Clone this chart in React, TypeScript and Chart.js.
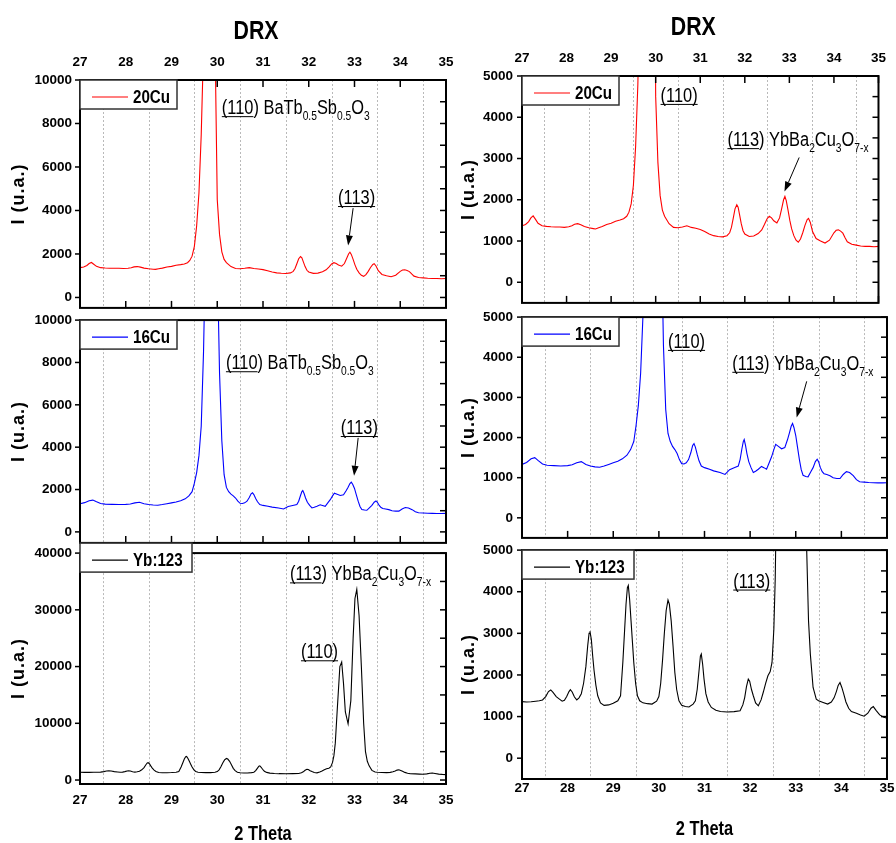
import React, { useEffect, useRef } from 'react';
import { Chart, registerables } from 'chart.js';

Chart.register(...registerables);

// ---------------- DATA: [2θ, intensity] ----------------
const scan20Cu: [number, number][] = [
  [27.00,1370],[27.08,1400],[27.15,1470],[27.20,1560],[27.25,1610],[27.30,1530],[27.36,1430],[27.45,1370],[27.55,1355],[27.65,1345],
  [27.75,1340],[27.85,1340],[27.95,1330],[28.05,1345],[28.12,1370],[28.18,1405],[28.25,1420],[28.32,1395],[28.40,1350],[28.50,1320],
  [28.60,1300],[28.65,1290],[28.72,1320],[28.80,1350],[28.90,1400],[29.00,1430],[29.10,1480],[29.20,1510],[29.28,1540],[29.35,1600],
  [29.40,1700],[29.45,1900],[29.50,2350],[29.55,3300],[29.60,4800],[29.65,7500],[29.70,11500],[29.80,30000],[29.85,35000],[29.90,25000],
  [29.95,12000],[30.00,4500],[30.05,2900],[30.10,2100],[30.15,1750],[30.20,1600],[30.30,1420],[30.40,1330],[30.50,1320],[30.60,1340],
  [30.70,1370],[30.80,1330],[30.90,1310],[31.00,1280],[31.10,1230],[31.20,1170],[31.30,1130],[31.40,1110],[31.50,1100],[31.60,1130],
  [31.66,1200],[31.70,1330],[31.74,1550],[31.78,1780],[31.82,1880],[31.85,1820],[31.88,1650],[31.92,1420],[31.96,1250],[32.00,1170],
  [32.10,1110],[32.20,1120],[32.30,1180],[32.38,1270],[32.44,1400],[32.50,1540],[32.55,1600],[32.60,1560],[32.65,1490],[32.72,1440],
  [32.78,1560],[32.83,1800],[32.87,2000],[32.90,2080],[32.93,1980],[32.97,1750],[33.01,1500],[33.05,1300],[33.10,1130],[33.15,1020],
  [33.20,970],[33.25,1050],[33.30,1200],[33.35,1380],[33.40,1520],[33.43,1550],[33.47,1450],[33.52,1230],[33.60,1060],[33.70,1000],
  [33.80,950],[33.90,1020],[34.00,1200],[34.05,1260],[34.10,1270],[34.15,1240],[34.20,1190],[34.25,1080],[34.30,980],[34.40,920],
  [34.50,900],[34.60,880],[34.70,870],[34.80,870],[34.90,860],[35.00,870],
];

const scan16Cu: [number, number][] = [
  [27.00,1330],[27.10,1380],[27.20,1470],[27.28,1500],[27.35,1430],[27.45,1340],[27.55,1310],[27.70,1300],[27.85,1290],[28.00,1300],
  [28.10,1320],[28.20,1370],[28.30,1400],[28.40,1330],[28.50,1290],[28.60,1270],[28.70,1260],[28.80,1290],[28.90,1330],[29.00,1370],
  [29.10,1410],[29.20,1470],[29.30,1560],[29.38,1700],[29.45,1900],[29.50,2300],[29.55,2800],[29.60,3600],[29.65,5000],[29.70,8500],
  [29.75,14000],[29.85,35000],[29.90,38000],[29.95,30000],[30.00,13000],[30.05,7500],[30.10,4300],[30.15,2700],[30.20,2100],[30.25,1900],
  [30.30,1780],[30.35,1700],[30.40,1600],[30.45,1450],[30.50,1350],[30.55,1340],[30.60,1370],[30.65,1450],[30.70,1620],[30.74,1800],
  [30.77,1850],[30.80,1760],[30.84,1580],[30.88,1420],[30.93,1290],[31.00,1250],[31.11,1210],[31.20,1170],[31.34,1130],[31.45,1080],
  [31.55,1200],[31.65,1250],[31.74,1290],[31.78,1450],[31.82,1720],[31.85,1900],[31.87,1950],[31.90,1800],[31.93,1600],[31.97,1400],
  [32.02,1250],[32.07,1130],[32.12,1160],[32.18,1210],[32.25,1280],[32.30,1250],[32.36,1210],[32.42,1380],[32.47,1520],[32.52,1700],
  [32.56,1830],[32.62,1780],[32.69,1720],[32.76,1750],[32.82,1950],[32.86,2110],[32.90,2280],[32.93,2350],[32.96,2250],[33.00,2050],
  [33.04,1750],[33.08,1450],[33.12,1200],[33.16,1060],[33.22,1030],[33.27,1020],[33.33,1150],[33.38,1250],[33.43,1400],[33.47,1460],
  [33.50,1400],[33.54,1250],[33.58,1150],[33.62,1100],[33.68,1080],[33.75,1050],[33.82,1000],[33.90,980],[33.97,980],[34.04,1080],
  [34.11,1150],[34.18,1130],[34.26,1050],[34.33,950],[34.40,900],[34.50,890],[34.60,880],[34.70,875],[34.80,870],[34.90,870],[35.00,875],
];

const scanYb123: [number, number][] = [
  [27.00,1360],[27.10,1350],[27.20,1355],[27.30,1370],[27.38,1380],[27.45,1400],[27.52,1480],[27.58,1600],[27.63,1640],[27.68,1580],
  [27.75,1480],[27.82,1420],[27.88,1370],[27.93,1390],[27.98,1480],[28.03,1600],[28.06,1645],[28.10,1590],[28.15,1470],[28.20,1400],
  [28.25,1450],[28.30,1550],[28.35,1800],[28.40,2200],[28.44,2700],[28.47,3000],[28.49,3050],[28.52,2850],[28.55,2450],[28.58,2100],
  [28.62,1750],[28.66,1500],[28.72,1330],[28.80,1270],[28.90,1280],[29.00,1320],[29.10,1380],[29.16,1500],[29.21,2300],[29.25,3100],
  [29.28,3700],[29.31,4100],[29.33,4150],[29.36,3800],[29.39,3300],[29.42,2800],[29.45,2300],[29.49,1800],[29.53,1500],[29.58,1380],
  [29.65,1330],[29.75,1310],[29.85,1300],[29.95,1370],[30.00,1480],[30.04,1800],[30.08,2350],[30.12,3000],[30.16,3550],[30.20,3800],
  [30.23,3700],[30.27,3300],[30.31,2700],[30.35,2060],[30.39,1650],[30.44,1380],[30.50,1270],[30.58,1240],[30.66,1230],[30.75,1300],
  [30.80,1380],[30.84,1650],[30.88,2100],[30.91,2450],[30.93,2500],[30.96,2250],[30.99,1900],[31.03,1550],[31.08,1350],[31.15,1220],
  [31.25,1150],[31.35,1120],[31.50,1110],[31.65,1120],[31.78,1140],[31.84,1280],[31.88,1450],[31.92,1720],[31.96,1900],[31.99,1850],
  [32.03,1650],[32.07,1500],[32.12,1330],[32.18,1260],[32.24,1400],[32.29,1590],[32.34,1800],[32.39,1980],[32.44,2080],[32.48,2300],
  [32.52,3100],[32.55,4300],[32.58,6500],[32.62,12000],[32.68,20000],[32.72,20800],[32.76,17000],[32.80,12000],[32.86,9900],[32.92,14000],
  [32.97,25000],[33.01,32000],[33.05,33600],[33.10,29000],[33.15,20000],[33.20,10000],[33.24,5000],[33.28,3300],[33.32,2500],[33.38,1700],
  [33.45,1420],[33.50,1380],[33.60,1340],[33.70,1300],[33.78,1350],[33.84,1450],[33.89,1600],[33.93,1750],[33.97,1820],[34.01,1700],
  [34.05,1550],[34.10,1350],[34.16,1200],[34.22,1120],[34.33,1080],[34.42,1040],[34.50,1010],[34.58,1080],[34.65,1200],[34.70,1240],
  [34.76,1150],[34.84,1040],[34.92,990],[35.00,960],
];

const xTickValues = [27, 28, 29, 30, 31, 32, 33, 34, 35];
const xGridValues = [27.5, 28.5, 29.5, 30.5, 31.5, 32.5, 33.5, 34.5];
const yTicks10k = [0, 2000, 4000, 6000, 8000, 10000];
const yTicks40k = [0, 10000, 20000, 30000, 40000];
const yTicks5k = [0, 1000, 2000, 3000, 4000, 5000];

// ---------------- STYLE ----------------
const SANS = "'Liberation Sans', Arial, sans-serif";
const NARROW_X = 0.82; // horizontal condensation used for Arial-Narrow-like text

type Seg = { t: string; sub?: boolean; ul?: boolean };
type Ann = { x: number; y: number; segs: Seg[] };
type Arrow = { x1: number; y1: number; x2: number; y2: number };

const baTbSb: Seg[] = [{ t: '(110', ul: true }, { t: ') BaTb' }, { t: '0.5', sub: true }, { t: 'Sb' }, { t: '0.5', sub: true }, { t: 'O' }, { t: '3', sub: true }];
const ybBaCu: Seg[] = [{ t: '(113', ul: true }, { t: ') YbBa' }, { t: '2', sub: true }, { t: 'Cu' }, { t: '3', sub: true }, { t: 'O' }, { t: '7-x', sub: true }];
const l110: Seg[] = [{ t: '(110)', ul: true }];
const l113: Seg[] = [{ t: '(113)', ul: true }];

type PanelCfg = {
  id: string;
  left: number; top: number; w: number; h: number;
  pad: { top: number; right: number; bottom: number };
  yWidth: number; yPad: number;
  xMode: 'top' | 'none' | 'bottom'; xHeight: number; xPad: number;
  yMin: number; yMax: number; yTicks: number[];
  scan: [number, number][]; color: string; label: string;
  legendW: number; legendDy: number;
  anns: Ann[]; arrows: Arrow[];
  yTitleOff: number; title: boolean; xTitle: boolean;
  topTicks: boolean; bottomTicks: boolean;
};

function narrowText(ctx: CanvasRenderingContext2D, text: string, x: number, y: number, font: string, align: CanvasTextAlign = 'left'): number {
  ctx.save();
  ctx.font = font;
  ctx.textAlign = align;
  ctx.translate(x, y);
  ctx.scale(NARROW_X, 1);
  ctx.fillText(text, 0, 0);
  const w = ctx.measureText(text).width * NARROW_X;
  ctx.restore();
  return w;
}

function makePlugin(p: PanelCfg) {
  return {
    id: 'panelDecor_' + p.id,
    beforeDatasetsDraw(chart: any) {
      const { ctx, chartArea: a, scales } = chart;
      const x = scales.x;
      ctx.save();
      ctx.strokeStyle = '#b9b9b9';
      ctx.lineWidth = 1;
      ctx.setLineDash([2, 2]);
      for (const g of xGridValues) {
        const px = Math.round(x.getPixelForValue(g)) + 0.5;
        ctx.beginPath();
        ctx.moveTo(px, a.top);
        ctx.lineTo(px, a.bottom);
        ctx.stroke();
      }
      ctx.restore();
    },
    afterDraw(chart: any) {
      const { ctx, chartArea: a, scales } = chart;
      const x = scales.x, y = scales.y;
      ctx.save();
      ctx.strokeStyle = '#000';
      ctx.fillStyle = '#000';
      ctx.setLineDash([]);
      // frame
      ctx.lineWidth = 2;
      ctx.strokeRect(a.left, a.top, a.right - a.left, a.bottom - a.top);
      // x integer ticks (inward)
      ctx.lineWidth = 1.5;
      for (const v of xTickValues) {
        const px = x.getPixelForValue(v);
        if (p.topTicks) { ctx.beginPath(); ctx.moveTo(px, a.top); ctx.lineTo(px, a.top + 7); ctx.stroke(); }
        if (p.bottomTicks) { ctx.beginPath(); ctx.moveTo(px, a.bottom); ctx.lineTo(px, a.bottom - 7); ctx.stroke(); }
      }
      // y ticks
      const ys = p.yTicks;
      for (let i = 0; i < ys.length; i++) {
        const py = y.getPixelForValue(ys[i]);
        ctx.beginPath(); ctx.moveTo(a.left, py); ctx.lineTo(a.left - 5, py); ctx.stroke();
        ctx.beginPath(); ctx.moveTo(a.right, py); ctx.lineTo(a.right - 6, py); ctx.stroke();
        if (i < ys.length - 1) {
          const pm = y.getPixelForValue((ys[i] + ys[i + 1]) / 2);
          ctx.beginPath(); ctx.moveTo(a.right, pm); ctx.lineTo(a.right - 6, pm); ctx.stroke();
        }
      }
      // legend
      const bx = a.left, by = a.top + p.legendDy, bh = 29;
      ctx.fillStyle = '#fff';
      ctx.fillRect(bx, by, p.legendW, bh);
      ctx.strokeStyle = '#333';
      ctx.lineWidth = 1.5;
      ctx.strokeRect(bx, by, p.legendW, bh);
      ctx.strokeStyle = p.color;
      ctx.lineWidth = 1.2;
      ctx.beginPath(); ctx.moveTo(bx + 12, by + 17); ctx.lineTo(bx + 48, by + 17); ctx.stroke();
      ctx.fillStyle = '#000';
      ctx.textBaseline = 'alphabetic';
      narrowText(ctx, p.label, bx + 53, by + 23, `bold 18.5px ${SANS}`);
      // annotations
      ctx.strokeStyle = '#000';
      ctx.lineWidth = 1;
      for (const an of p.anns) {
        let cx = x.getPixelForValue(an.x);
        const base = y.getPixelForValue(an.y);
        for (const s of an.segs) {
          const w = s.sub
            ? narrowText(ctx, s.t, cx, base + 6, `12.5px ${SANS}`)
            : narrowText(ctx, s.t, cx, base, `20px ${SANS}`);
          if (s.ul) {
            ctx.beginPath(); ctx.moveTo(cx, base + 2.5); ctx.lineTo(cx + w, base + 2.5); ctx.stroke();
          }
          cx += w;
        }
      }
      // arrows
      for (const ar of p.arrows) {
        const x1 = x.getPixelForValue(ar.x1), y1 = y.getPixelForValue(ar.y1);
        const x2 = x.getPixelForValue(ar.x2), y2 = y.getPixelForValue(ar.y2);
        const ang = Math.atan2(y2 - y1, x2 - x1);
        const hl = 10, hw = 3.5;
        const bxp = x2 - hl * Math.cos(ang), byp = y2 - hl * Math.sin(ang);
        ctx.beginPath(); ctx.moveTo(x1, y1); ctx.lineTo(bxp, byp); ctx.stroke();
        ctx.beginPath();
        ctx.moveTo(x2, y2);
        ctx.lineTo(bxp + hw * Math.sin(ang), byp - hw * Math.cos(ang));
        ctx.lineTo(bxp - hw * Math.sin(ang), byp + hw * Math.cos(ang));
        ctx.closePath();
        ctx.fill();
      }
      // y title
      ctx.save();
      ctx.translate(a.left - p.yTitleOff, (a.top + a.bottom) / 2);
      ctx.rotate(-Math.PI / 2);
      ctx.font = `bold 18px ${SANS}`;
      try { (ctx as any).letterSpacing = '1px'; } catch (e) { /* ignore */ }
      ctx.textAlign = 'center';
      ctx.textBaseline = 'middle';
      ctx.fillText('I (u.a.)', 0, 0);
      ctx.restore();
      // titles
      ctx.textBaseline = 'middle';
      if (p.title) {
        narrowText(ctx, 'DRX', (a.left + a.right) / 2 - 7, a.top - 48, `bold 26px ${SANS}`, 'center');
      }
      if (p.xTitle) {
        narrowText(ctx, '2 Theta', (a.left + a.right) / 2, a.bottom + 50.5, `bold 20px ${SANS}`, 'center');
      }
      ctx.restore();
    },
  };
}

const tickFont = { family: SANS, size: 13.5, weight: 'bold' as const };

function Panel({ cfg }: { cfg: PanelCfg }) {
  const ref = useRef<HTMLCanvasElement>(null);
  useEffect(() => {
    const p = cfg;
    const chart = new Chart(ref.current as HTMLCanvasElement, {
      type: 'line',
      data: {
        datasets: [{
          label: p.label,
          data: p.scan.map(([t, v]) => ({ x: t, y: v })),
          borderColor: p.color,
          borderWidth: 1.1,
          pointRadius: 0,
          tension: 0,
          fill: false,
        }],
      },
      options: {
        responsive: false,
        animation: false,
        devicePixelRatio: 1,
        events: [],
        layout: { padding: { left: 0, right: p.pad.right, top: p.pad.top, bottom: p.pad.bottom } },
        plugins: { legend: { display: false }, tooltip: { enabled: false }, title: { display: false } },
        scales: {
          x: {
            type: 'linear',
            position: p.xMode === 'top' ? 'top' : 'bottom',
            display: p.xMode !== 'none',
            min: 27, max: 35,
            afterBuildTicks: (s: any) => { s.ticks = xTickValues.map((v) => ({ value: v })); },
            ticks: { font: tickFont, color: '#000', padding: p.xPad, maxRotation: 0, autoSkip: false, callback: (v: any) => String(v) },
            grid: { display: false, drawTicks: false },
            border: { display: false },
            afterFit: (s: any) => { s.height = p.xHeight; },
          } as any,
          y: {
            type: 'linear',
            min: p.yMin, max: p.yMax,
            afterBuildTicks: (s: any) => { s.ticks = p.yTicks.map((v) => ({ value: v })); },
            ticks: { font: tickFont, color: '#000', padding: p.yPad, autoSkip: false, callback: (v: any) => String(v) },
            grid: { display: false, drawTicks: false },
            border: { display: false },
            afterFit: (s: any) => { s.width = p.yWidth; },
          } as any,
        },
      },
      plugins: [makePlugin(p)],
    });
    return () => chart.destroy();
  }, [cfg]);
  return (
    <canvas
      ref={ref}
      width={cfg.w}
      height={cfg.h}
      style={{ position: 'absolute', left: cfg.left, top: cfg.top, width: cfg.w, height: cfg.h }}
    />
  );
}

const common = {
  legendW: 97, legendDy: 0, yTitleOff: 61, title: false, xTitle: false, topTicks: false, bottomTicks: true,
};

const panels: PanelCfg[] = [
  // ---- left column ----
  {
    ...common, id: 'LT', left: 0, top: 0, w: 476, h: 324, pad: { top: 0, right: 30, bottom: 10 },
    yWidth: 80, yPad: 8, xMode: 'top', xHeight: 80, xPad: 10,
    yMin: -480, yMax: 10000, yTicks: yTicks10k,
    scan: scan20Cu, color: '#ff0000', label: '20Cu',
    anns: [{ x: 30.10, y: 8430, segs: baTbSb }, { x: 32.64, y: 4295, segs: l113 }],
    arrows: [{ x1: 32.97, y1: 4107, x2: 32.86, y2: 2394 }],
    title: true, topTicks: true,
  },
  {
    ...common, id: 'LM', left: 0, top: 304, w: 476, h: 255, pad: { top: 10, right: 30, bottom: 10 },
    yWidth: 80, yPad: 8, xMode: 'none', xHeight: 0, xPad: 0,
    yMin: -520, yMax: 10000, yTicks: yTicks10k,
    scan: scan16Cu, color: '#0000ff', label: '16Cu',
    anns: [{ x: 30.19, y: 7680, segs: baTbSb }, { x: 32.70, y: 4620, segs: l113 }],
    arrows: [{ x1: 33.08, y1: 4440, x2: 32.99, y2: 2646 }],
  },
  {
    ...common, id: 'LB', left: 0, top: 537, w: 476, h: 306, pad: { top: 12, right: 30, bottom: 0 },
    yWidth: 80, yPad: 8, xMode: 'bottom', xHeight: 59, xPad: 8,
    yMin: -700, yMax: 40000, yTicks: yTicks40k,
    scan: scanYb123, color: '#000000', label: 'Yb:123',
    legendW: 112, legendDy: -10,
    anns: [{ x: 31.59, y: 35190, segs: ybBaCu }, { x: 31.83, y: 21460, segs: l110 }],
    arrows: [], xTitle: true, bottomTicks: false,
  },
  // ---- right column ----
  {
    ...common, id: 'RT', left: 450, top: 0, w: 446, h: 320, pad: { top: 0, right: 9, bottom: 10 },
    yWidth: 72, yPad: 9, xMode: 'top', xHeight: 76, xPad: 10,
    yMin: -500, yMax: 5000, yTicks: yTicks5k,
    scan: scan20Cu, color: '#ff0000', label: '20Cu',
    anns: [{ x: 30.11, y: 4372, segs: l110 }, { x: 31.61, y: 3300, segs: ybBaCu }],
    arrows: [{ x1: 33.22, y1: 3025, x2: 32.89, y2: 2200 }],
    yTitleOff: 53, title: true, topTicks: true,
  },
  {
    ...common, id: 'RM', left: 450, top: 300, w: 446, h: 255, pad: { top: 10, right: 9, bottom: 10 },
    yWidth: 72, yPad: 9, xMode: 'none', xHeight: 0, xPad: 0,
    yMin: -500, yMax: 5000, yTicks: yTicks5k,
    scan: scan16Cu, color: '#0000ff', label: '16Cu',
    anns: [{ x: 30.20, y: 4233, segs: l110 }, { x: 31.61, y: 3687, segs: ybBaCu }],
    arrows: [{ x1: 33.24, y1: 3400, x2: 33.02, y2: 2500 }],
    yTitleOff: 53,
  },
  {
    ...common, id: 'RB', left: 450, top: 533, w: 446, h: 310, pad: { top: 12, right: 9, bottom: 0 },
    yWidth: 72, yPad: 9, xMode: 'bottom', xHeight: 64, xPad: 1.5,
    yMin: -500, yMax: 5000, yTicks: yTicks5k,
    scan: scanYb123, color: '#000000', label: 'Yb:123',
    legendW: 112, legendDy: 0,
    anns: [{ x: 31.63, y: 4100, segs: l113 }],
    arrows: [], yTitleOff: 53, xTitle: true, bottomTicks: false,
  },
];

export default function App() {
  return (
    <div style={{ position: 'absolute', left: 0, top: 0, width: 896, height: 843, background: '#fff', overflow: 'hidden' }}>
      {panels.map((p) => <Panel key={p.id} cfg={p} />)}
    </div>
  );
}
